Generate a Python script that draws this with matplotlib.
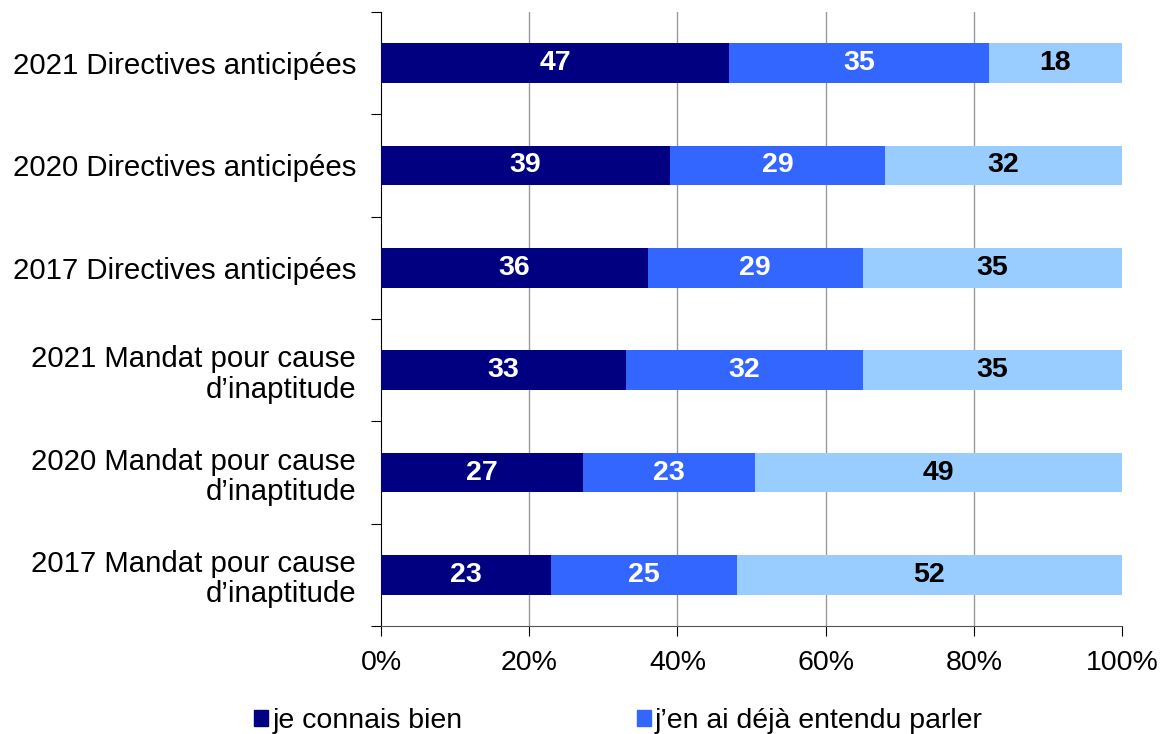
import numpy as np
import matplotlib.pyplot as plt
from matplotlib.patches import Patch

plt.rcParams['font.family'] = ['Liberation Sans', 'DejaVu Sans']

categories = ["2021 Directives anticipées",
              "2020 Directives anticipées",
              "2017 Directives anticipées",
              "2021 Mandat pour cause\nd’inaptitude",
              "2020 Mandat pour cause\nd’inaptitude",
              "2017 Mandat pour cause\nd’inaptitude"]
connais_bien = [47, 39, 36, 33, 27, 23]
entendu_parler = [35, 29, 29, 32, 23, 25]
jamais_entendu = [18, 32, 35, 35, 49, 52]
series_names = ["je connais bien", "j’en ai déjà entendu parler",
                "je n’en ai jamais entendu parler"]
colors = ["#000080", "#3366FF", "#99CCFF"]
text_colors = ["white", "white", "black"]

data = np.array([connais_bien, entendu_parler, jamais_entendu], dtype=float)
shares = data / data.sum(axis=0)

fig = plt.figure(figsize=(11.61, 7.34), dpi=100)
ax = fig.add_axes([0.3282, 0.1471, 0.6382, 0.8366])

y = np.arange(len(categories))
left = np.zeros(len(categories))
for i in range(3):
    ax.barh(y, shares[i], left=left, height=0.39, color=colors[i], zorder=3)
    for j in range(len(categories)):
        ax.text(left[j] + shares[i][j] / 2, y[j], f"{data[i][j]:.0f}",
                ha='center', va='center', color=text_colors[i],
                fontsize=20.5, fontweight='bold', zorder=4)
    left += shares[i]

ax.set_ylim(len(categories) - 0.5, -0.5)
ax.set_xlim(0, 1)
ax.set_yticks(np.arange(-0.5, len(categories)), minor=False)
ax.set_yticklabels([])
ax.set_yticks(y, minor=True)
ax.set_yticklabels(categories, minor=True, fontsize=21.2, ha='right',
                   multialignment='right', linespacing=1.12)
ax.tick_params(axis='y', which='minor', length=0, pad=18)
ax.tick_params(axis='y', which='major', length=7, direction='out')

ticks = np.arange(0, 1.01, 0.2)
ax.set_xticks(ticks)
ax.set_xticklabels([f"{int(round(v * 100))}%" for v in ticks], fontsize=20.5)
ax.tick_params(axis='x', length=7, direction='out', pad=10)
for v in ticks[1:-1]:
    ax.axvline(v, color='#999999', linewidth=1, zorder=0)

for s in ['top', 'right']:
    ax.spines[s].set_visible(False)
ax.spines['left'].set_color('black')
ax.spines['bottom'].set_color('#555555')

# only the first two legend entries fit on the visible canvas
handles = [Patch(color=c) for c in colors[:2]]
fig.legend(handles, series_names[:2], loc='center left', ncol=2,
           bbox_to_anchor=(0.219, 0.018), frameon=False, fontsize=20.5,
           handlelength=0.5, handleheight=0.5, handletextpad=0.15,
           columnspacing=6.1, borderaxespad=0, borderpad=0)

fig.savefig("out.png", dpi=100)
